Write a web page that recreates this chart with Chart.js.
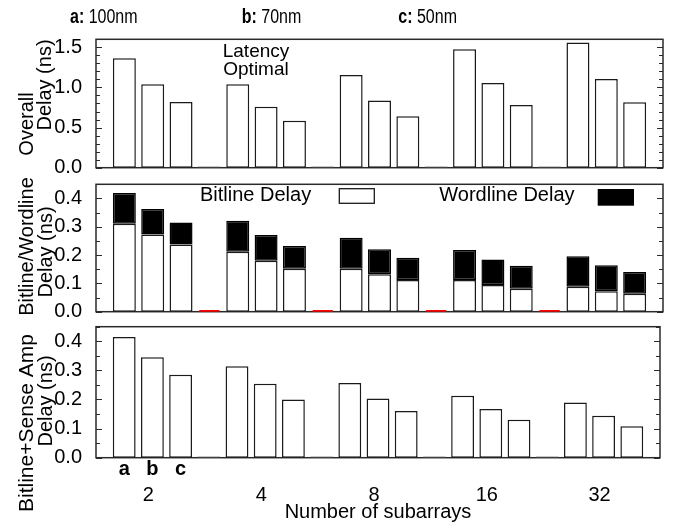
<!DOCTYPE html>
<html><head><meta charset="utf-8">
<script src="https://cdn.jsdelivr.net/npm/chart.js@4.4.1/dist/chart.umd.min.js"></script>
<style>
html,body{margin:0;padding:0;background:#fff;}
#wrap{position:relative;width:678px;height:529px;overflow:hidden;}
canvas{position:absolute;left:0;top:0;}
</style></head><body>
<div id="wrap">
<canvas id="c1" width="678" height="529"></canvas>
<canvas id="c2" width="678" height="529"></canvas>
<canvas id="c3" width="678" height="529"></canvas>
</div>
<script>
// ---------------- data ----------------
const subarrayCounts = ['2', '4', '8', '16', '32'];
const techNodes = ['a', 'b', 'c'];
const techNodeSizes = ['100nm', '70nm', '50nm'];

// Overall delay (ns) per subarray count
const overallDelay100 = [1.365, 1.04, 1.155, 1.476, 1.56];
const overallDelay70  = [1.04, 0.76, 0.837, 1.056, 1.105];
const overallDelay50  = [0.82, 0.585, 0.64, 0.78, 0.816];

// Bitline / wordline delay (ns)
const bitlineDelay100  = [0.311, 0.212, 0.152, 0.112, 0.088];
const bitlineDelay70   = [0.273, 0.180, 0.132, 0.094, 0.072];
const bitlineDelay50   = [0.237, 0.152, 0.112, 0.081, 0.063];
const wordlineDelay100 = [0.108, 0.109, 0.109, 0.106, 0.108];
const wordlineDelay70  = [0.090, 0.091, 0.089, 0.090, 0.092];
const wordlineDelay50  = [0.078, 0.080, 0.079, 0.081, 0.077];

// Bitline + sense amp delay (ns)
const bitSenseDelay100 = [0.415, 0.314, 0.257, 0.213, 0.190];
const bitSenseDelay70  = [0.345, 0.254, 0.203, 0.167, 0.144];
const bitSenseDelay50  = [0.285, 0.200, 0.160, 0.130, 0.108];

// ---------------- slot layout (a, b, c, spacer per group) ----------------
const PER_GROUP = techNodes.length + 1;
const N_SLOTS = 1 + subarrayCounts.length * PER_GROUP;
const slotIndex = (g, n) => 1 + g * PER_GROUP + n;
const slotLabels = Array.from({length: N_SLOTS}, () => '');
subarrayCounts.forEach((s, g) => { slotLabels[slotIndex(g, 1)] = s; });

function toSlots(seriesByNode) {
  const out = Array.from({length: N_SLOTS}, () => null);
  seriesByNode.forEach((vals, n) => vals.forEach((v, g) => { out[slotIndex(g, n)] = v; }));
  return out;
}
const spacerSlots = (() => {
  const out = Array.from({length: N_SLOTS}, () => null);
  for (let g = 0; g < subarrayCounts.length - 1; g++) out[slotIndex(g, techNodes.length)] = 0;
  return out;
})();

const overallSlots  = toSlots([overallDelay100, overallDelay70, overallDelay50]);
const bitlineSlots  = toSlots([bitlineDelay100, bitlineDelay70, bitlineDelay50]);
const wordlineSlots = toSlots([wordlineDelay100, wordlineDelay70, wordlineDelay50]);
const bitSenseSlots = toSlots([bitSenseDelay100, bitSenseDelay70, bitSenseDelay50]);

// ---------------- styling ----------------
const SANS = "'Liberation Sans', Arial, Helvetica, sans-serif";
const FRAME = '#2a2a2a';
const EDGE = '#1a1a1a';
Chart.defaults.font.family = SANS;
Chart.defaults.font.size = 20;
Chart.defaults.color = '#000';

const isMultiple = (v, m) => Math.abs(v / m - Math.round(v / m)) < 1e-6;

function panelOptions(p) {
  return {
    responsive: false, animation: false, devicePixelRatio: 1,
    layout: {padding: {left: 0, right: 15, top: p.top, bottom: p.bottom}},
    plugins: {legend: {display: false}, tooltip: {enabled: false}},
    datasets: {bar: {categoryPercentage: 1, barPercentage: 0.81}},
    scales: {
      x: {
        type: 'category', stacked: true, offset: false, display: !!p.showX,
        grid: {display: false}, border: {display: false},
        ticks: {autoSkip: false, maxRotation: 0, minRotation: 0, padding: 18, labelOffset: -4, font: {size: 20}},
        title: {display: !!p.showX, text: 'Number of subarrays', font: {size: 20}, padding: {top: 0, bottom: 5}},
        afterFit: s => { if (p.showX) s.height = p.xHeight; }
      },
      y: {
        type: 'linear', stacked: true, min: 0, max: p.max,
        grid: {display: false}, border: {display: false},
        ticks: {stepSize: p.step, padding: 6, autoSkip: false, font: {size: 20},
                callback: v => isMultiple(v, p.major) ? Number(v).toFixed(1) : ''},
        afterFit: s => { s.width = 96; }
      }
    }
  };
}

const framePlugin = {
  id: 'frameTicks',
  beforeDatasetsDraw(chart) {
    const {ctx, chartArea: a, scales: {y}} = chart;
    ctx.save();
    ctx.strokeStyle = FRAME;
    ctx.lineWidth = 1.5;
    ctx.strokeRect(a.left, a.top, a.right - a.left, a.bottom - a.top);
    ctx.lineWidth = 1;
    y.ticks.forEach(t => {
      const py = Math.round(y.getPixelForValue(t.value)) + 0.5;
      const len = t.label !== '' ? 6 : 4;
      ctx.beginPath();
      ctx.moveTo(a.left, py); ctx.lineTo(a.left + len, py);
      ctx.moveTo(a.right, py); ctx.lineTo(a.right - len, py);
      ctx.stroke();
    });
    ctx.restore();
  }
};

function rotText(ctx, text, x, yCenter) {
  ctx.save();
  ctx.translate(x, yCenter);
  ctx.rotate(-Math.PI / 2);
  ctx.textAlign = 'center';
  ctx.textBaseline = 'alphabetic';
  ctx.fillText(text, 0, 0);
  ctx.restore();
}
// horizontally condensed text (narrow face look)
function narrowText(ctx, text, x, y, sx) {
  ctx.save();
  ctx.translate(x, y);
  ctx.scale(sx, 1);
  ctx.textAlign = 'left';
  ctx.textBaseline = 'alphabetic';
  ctx.fillText(text, 0, 0);
  const w = ctx.measureText(text).width * sx;
  ctx.restore();
  return w;
}

// ---------------- panel 1: overall delay ----------------
const panel1Text = {
  id: 'panel1Text',
  afterDraw(chart) {
    const ctx = chart.ctx;
    ctx.save();
    ctx.fillStyle = '#000';
    const starts = [70, 241.7, 398.3];
    techNodes.forEach((n, i) => {
      ctx.font = 'bold 20px ' + SANS;
      const w = narrowText(ctx, n + ':', starts[i], 23, 0.8);
      ctx.font = '20px ' + SANS;
      narrowText(ctx, ' ' + techNodeSizes[i], starts[i] + w, 23, 0.8);
    });
    ctx.font = '19px ' + SANS;
    ctx.textAlign = 'center';
    ctx.textBaseline = 'alphabetic';
    ctx.fillText('Latency', 256, 57);
    ctx.fillText('Optimal', 256, 75);
    ctx.font = '20px ' + SANS;
    rotText(ctx, 'Overall', 33, 124);
    rotText(ctx, 'Delay (ns)', 51, 85);
    ctx.restore();
  }
};

new Chart(document.getElementById('c1'), {
  type: 'bar',
  data: {labels: slotLabels, datasets: [
    {label: 'Overall Delay', data: overallSlots, backgroundColor: '#fff', borderColor: EDGE, borderWidth: 1.5, borderSkipped: false},
    {label: 'spacer', data: spacerSlots, backgroundColor: '#444', inflateAmount: 1, barPercentage: 0.72}
  ]},
  options: panelOptions({top: 39.3, bottom: 529 - 167.7, max: 1.6, step: 0.1, major: 0.5}),
  plugins: [framePlugin, panel1Text]
});

// ---------------- panel 2: bitline / wordline ----------------
const panel2Text = {
  id: 'panel2Text',
  afterDraw(chart) {
    const ctx = chart.ctx;
    const ds = chart.data.datasets;
    ctx.save();
    ctx.fillStyle = '#000';
    ctx.font = '20px ' + SANS;
    ctx.textAlign = 'left'; ctx.textBaseline = 'alphabetic';
    ctx.fillText(ds[0].label, 200, 201);
    ctx.fillText(ds[1].label, 439.3, 201);
    ctx.fillStyle = ds[0].backgroundColor;
    ctx.fillRect(339.3, 188.7, 35, 14.6);
    ctx.strokeStyle = ds[0].borderColor; ctx.lineWidth = 1.3;
    ctx.strokeRect(339.3, 188.7, 35, 14.6);
    ctx.fillStyle = ds[1].backgroundColor;
    ctx.fillRect(597.7, 189, 36.3, 16.7);
    ctx.fillStyle = '#000';
    rotText(ctx, 'Bitline/Wordline', 33, 246.5);
    rotText(ctx, 'Delay (ns)', 52, 252);
    ctx.restore();
  }
};

new Chart(document.getElementById('c2'), {
  type: 'bar',
  data: {labels: slotLabels, datasets: [
    {label: 'Bitline Delay', data: bitlineSlots, backgroundColor: '#fff', borderColor: EDGE, borderWidth: 1.5, borderSkipped: false},
    {label: 'Wordline Delay', data: wordlineSlots, backgroundColor: '#000', borderColor: '#000', borderWidth: 1.5, borderSkipped: false},
    {label: 'spacer', data: spacerSlots, backgroundColor: '#ff0000', inflateAmount: 1.6, barPercentage: 0.6}
  ]},
  options: panelOptions({top: 184.3, bottom: 529 - 311.7, max: 0.45, step: 0.05, major: 0.1}),
  plugins: [framePlugin, panel2Text]
});

// ---------------- panel 3: bitline + sense amp ----------------
const panel3Text = {
  id: 'panel3Text',
  afterDraw(chart) {
    const ctx = chart.ctx;
    const x = chart.scales.x;
    ctx.save();
    ctx.fillStyle = '#000';
    ctx.font = 'bold 20px ' + SANS;
    ctx.textAlign = 'center'; ctx.textBaseline = 'alphabetic';
    techNodes.forEach((n, i) => ctx.fillText(n, x.getPixelForValue(slotIndex(0, i)), 474.5));
    ctx.font = '21px ' + SANS;
    rotText(ctx, 'Bitline+Sense Amp', 33, 423);
    ctx.font = '20px ' + SANS;
    rotText(ctx, 'Delay (ns)', 52, 401);
    ctx.restore();
  }
};

new Chart(document.getElementById('c3'), {
  type: 'bar',
  data: {labels: slotLabels, datasets: [
    {label: 'Bitline+Sense Amp Delay', data: bitSenseSlots, backgroundColor: '#fff', borderColor: EDGE, borderWidth: 1.5, borderSkipped: false},
    {label: 'spacer', data: spacerSlots, backgroundColor: '#444', inflateAmount: 1, barPercentage: 0.72}
  ]},
  options: panelOptions({top: 326.7, bottom: 0, max: 0.45, step: 0.05, major: 0.1, showX: true, xHeight: 529 - 457.7}),
  plugins: [framePlugin, panel3Text]
});
</script>
</body></html>
